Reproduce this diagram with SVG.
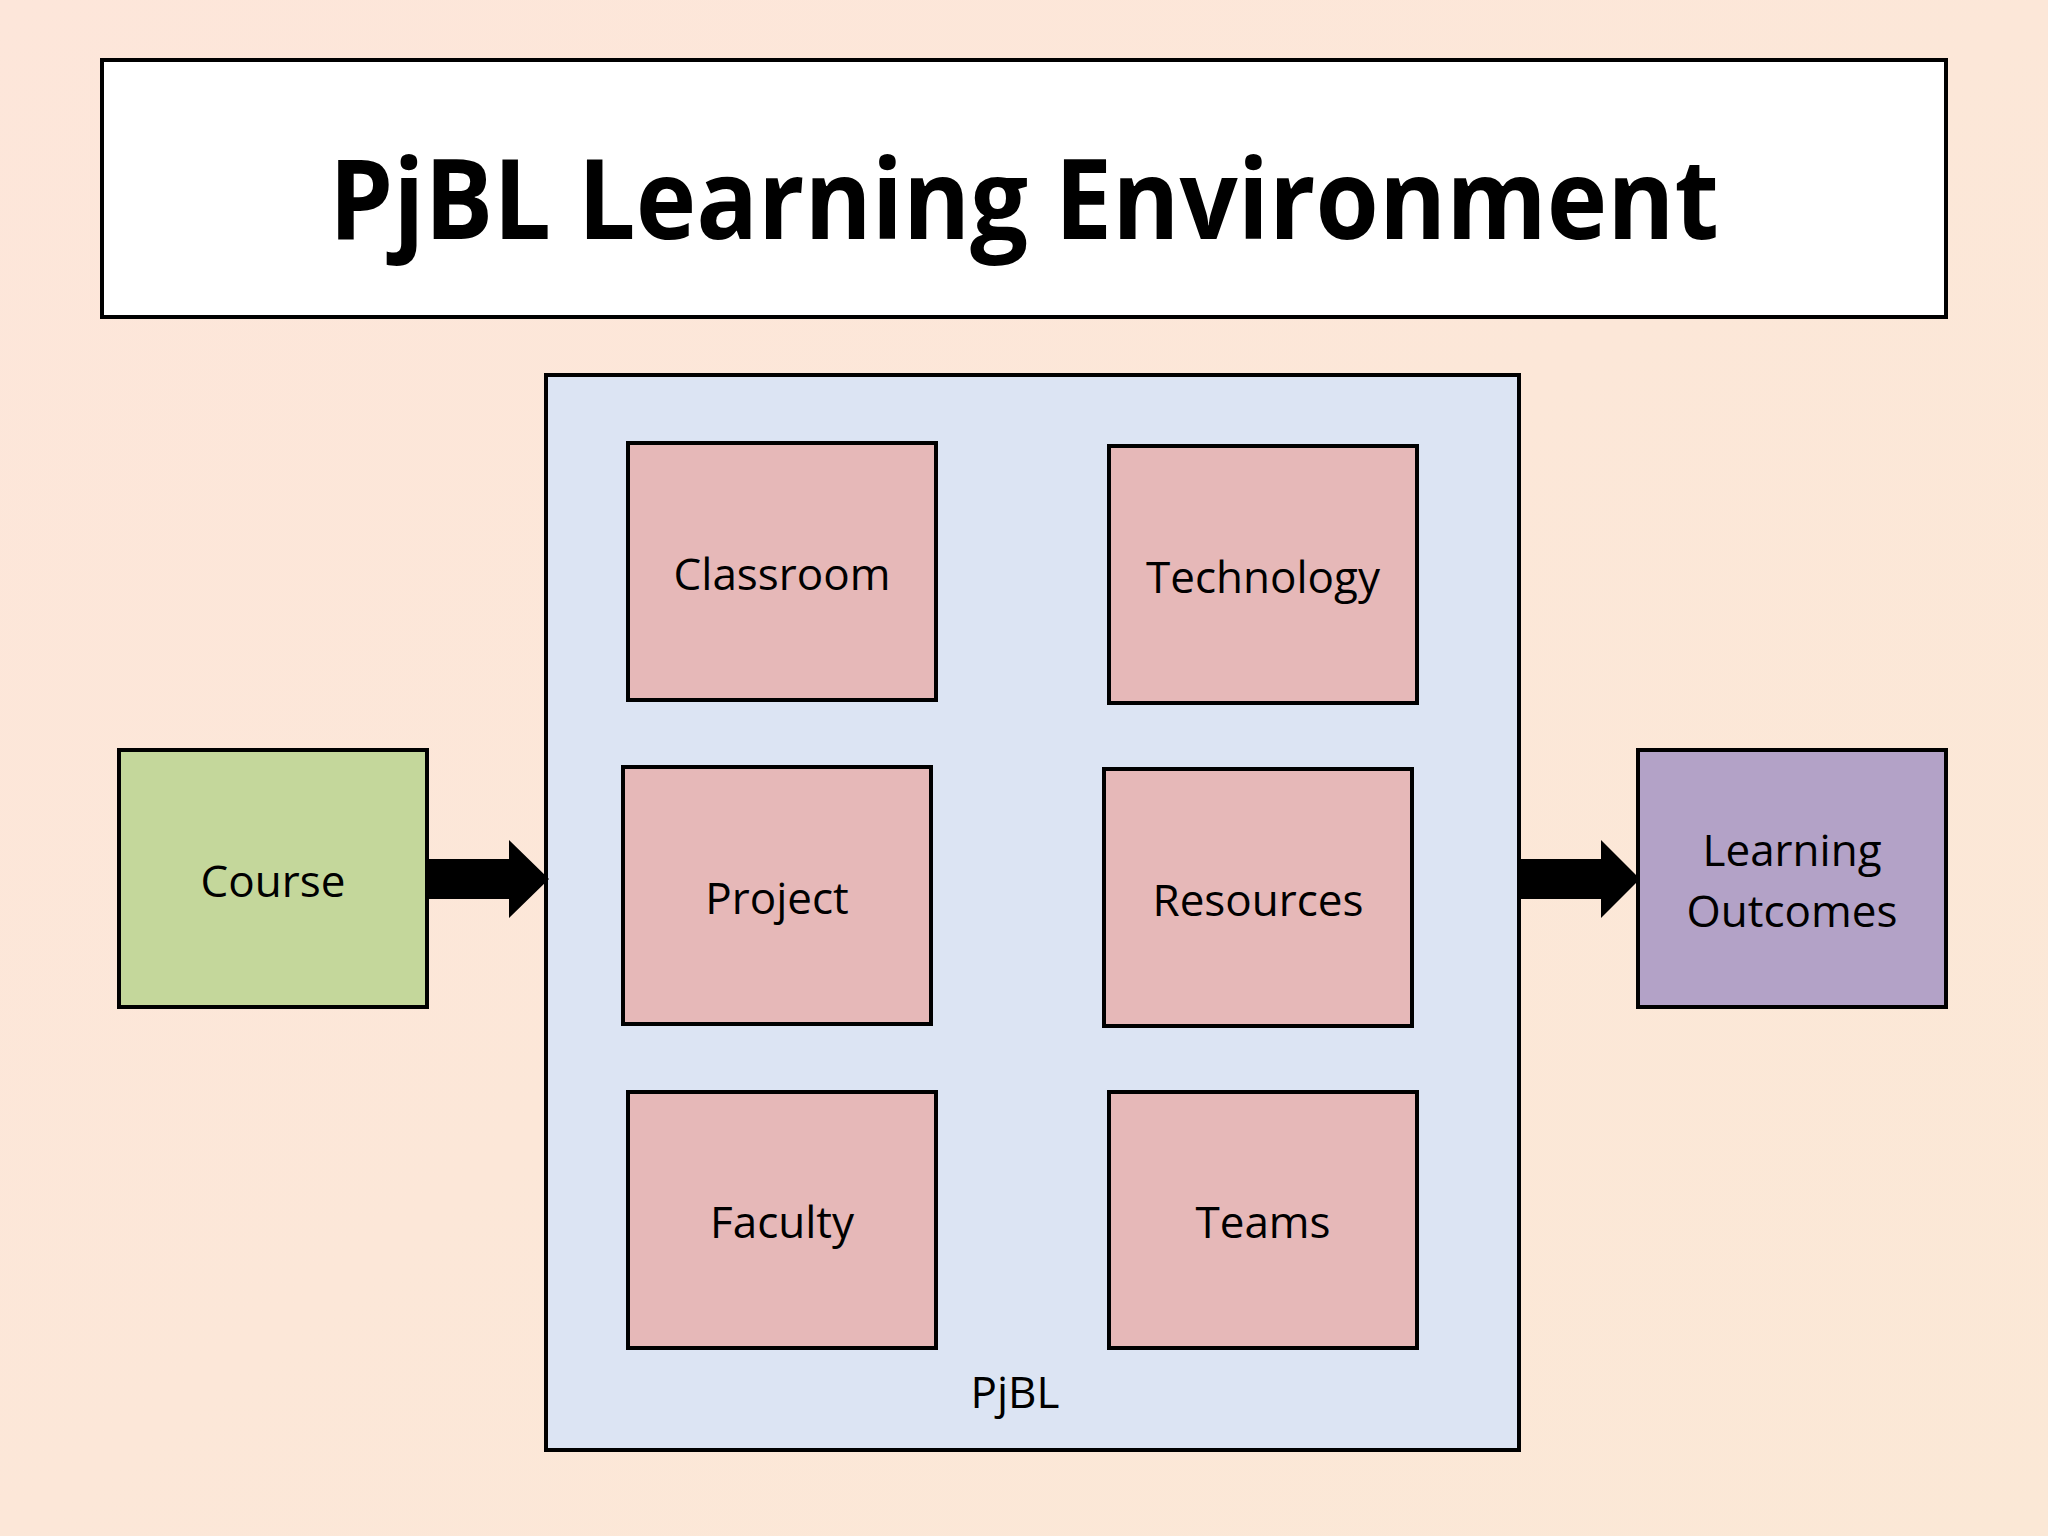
<svg xmlns="http://www.w3.org/2000/svg" width="2048" height="1536" viewBox="0 0 2048 1536">
<defs>
<linearGradient id="bg" x1="0" y1="0" x2="1" y2="1"><stop offset="0" stop-color="#fde6da"/><stop offset="1" stop-color="#fbe8d6"/></linearGradient>
</defs>
<style>
.b{stroke:#000;stroke-width:4}
.p{fill:#e6b8b8}
.t{font-family:"Open Sans","Liberation Sans",sans-serif;font-size:44px;text-anchor:middle;dominant-baseline:central;fill:#000}
</style>
<rect width="2048" height="1536" fill="url(#bg)"/>
<g id="title"><rect class="b" x="102" y="60" width="1844" height="257" fill="#fff"/>
<text x="1024" y="195" font-family="Open Sans, Liberation Sans, sans-serif" font-weight="bold" font-size="112" text-anchor="middle" dominant-baseline="central" textLength="1390" lengthAdjust="spacingAndGlyphs">PjBL Learning Environment</text></g>
<g id="pjbl"><rect class="b" x="546" y="375" width="973" height="1075" fill="#dce4f3"/><text class="t" x="1015" y="1391">PjBL</text></g>
<g id="classroom"><rect class="b p" x="628" y="443" width="308" height="257"/><text class="t" x="782" y="573">Classroom</text></g>
<g id="technology"><rect class="b p" x="1109" y="446" width="308" height="257"/><text class="t" x="1263" y="576">Technology</text></g>
<g id="project"><rect class="b p" x="623" y="767" width="308" height="257"/><text class="t" x="777" y="897">Project</text></g>
<g id="resources"><rect class="b p" x="1104" y="769" width="308" height="257"/><text class="t" x="1258" y="899">Resources</text></g>
<g id="faculty"><rect class="b p" x="628" y="1092" width="308" height="256"/><text class="t" x="782" y="1221">Faculty</text></g>
<g id="teams"><rect class="b p" x="1109" y="1092" width="308" height="256"/><text class="t" x="1263" y="1221">Teams</text></g>
<g id="course"><rect class="b" x="119" y="750" width="308" height="257" fill="#c4d79b"/><text class="t" x="273" y="880">Course</text></g>
<g id="outcomes"><rect class="b" x="1638" y="750" width="308" height="257" fill="#b3a2c7"/><text class="t" x="1792" y="849">Learning</text><text class="t" x="1792" y="910">Outcomes</text></g>
<g id="connectors">
<polygon points="427,859 509,859 509,840 549,879 509,918 509,899 427,899" fill="#000"/>
<polygon points="1519,859 1601,859 1601,840 1640,879 1601,918 1601,899 1519,899" fill="#000"/>
</g>
</svg>
